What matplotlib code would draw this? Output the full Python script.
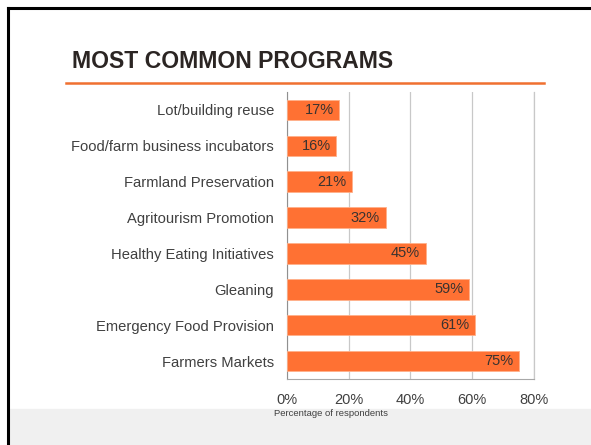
import matplotlib.pyplot as plt
from matplotlib.lines import Line2D
from matplotlib.patches import Rectangle

plt.rcParams['font.family'] = ['Liberation Sans', 'DejaVu Sans']

# data
programs = ['Lot/building reuse', 'Food/farm business incubators', 'Farmland Preservation',
            'Agritourism Promotion', 'Healthy Eating Initiatives', 'Gleaning',
            'Emergency Food Provision', 'Farmers Markets']
pct = [17, 16, 21, 32, 45, 59, 61, 75]
ticks = [0, 20, 40, 60, 80]
tick_labels = ['0%', '20%', '40%', '60%', '80%']

W, H = 591, 445
fig = plt.figure(figsize=(W / 100, H / 100), dpi=100)

# grey band at the bottom
fig.patches.append(Rectangle((8 / W, 0), 1, (H - 409) / H, transform=fig.transFigure,
                             color='#f0f0f0', zorder=0))
# black frame (left and top)
fig.add_artist(Line2D([8 / W, 8 / W], [0, 1 - 8 / H], color='black', lw=2.2))
fig.add_artist(Line2D([8 / W, 1], [1 - 8 / H, 1 - 8 / H], color='black', lw=2.2))

# title + orange rule
fig.text(72 / W, 1 - 62 / H, 'MOST COMMON PROGRAMS', fontsize=16.6, fontweight='bold',
         color='#2b2523', va='center', ha='left')
fig.add_artist(Line2D([66 / W, 544 / W], [1 - 83 / H, 1 - 83 / H], color='#f07030', lw=1.8))

ax = fig.add_axes([286.7 / W, 1 - 379 / H, (534 - 286.7) / W, (379 - 92) / H])
y = list(range(len(programs)))
ax.barh(y, pct, height=0.57, color='#ff7133', edgecolor='#ffb08a', linewidth=0.6, zorder=3)
for yi, v in zip(y, pct):
    ax.text(v - 1.8, yi, f'{v}%', ha='right', va='center', fontsize=10.5,
            color='#3a3330', zorder=4)

ax.set_xlim(0, 80)
ax.set_ylim(len(programs) - 0.5, -0.5)
ax.set_yticks(y)
ax.set_yticklabels(programs, fontsize=10.6, color='#404040')
ax.set_xticks(ticks)
ax.set_xticklabels(tick_labels, fontsize=10.5, color='#404040')
ax.tick_params(length=0)
ax.tick_params(axis='y', pad=9)
ax.tick_params(axis='x', pad=10)
ax.grid(axis='x', color='#c8c8c8', lw=0.9, zorder=0)
ax.spines['top'].set_visible(False)
ax.spines['right'].set_color('#c8c8c8')
ax.spines['right'].set_linewidth(0.9)
ax.spines['left'].set_color('#909090')
ax.spines['bottom'].set_color('#a8a8a8')
ax.set_facecolor('none')

fig.text(331 / W, 1 - 414 / H, 'Percentage of respondents', fontsize=6.8, color='#404040',
         ha='center', va='center')

fig.savefig('out.png', dpi=100)
